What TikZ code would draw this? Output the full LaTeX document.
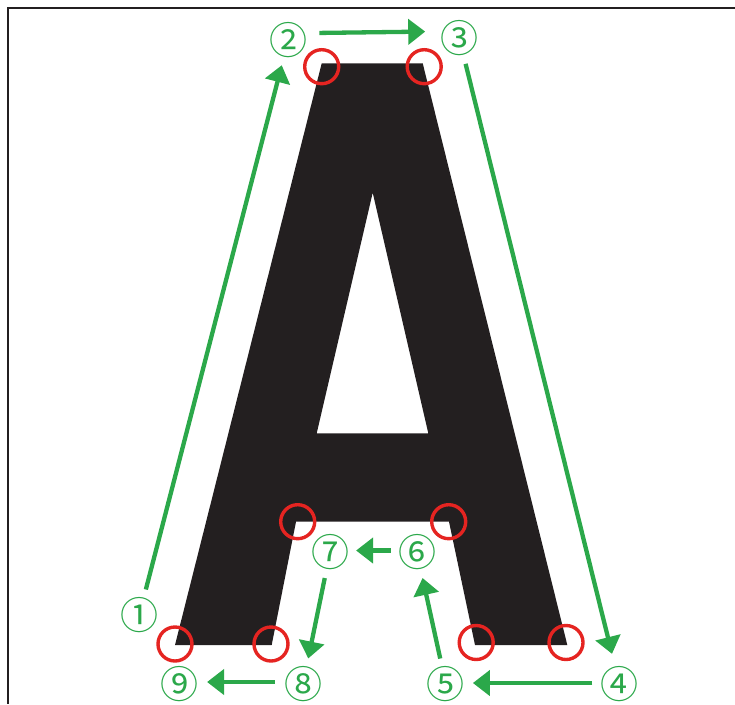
\documentclass[tikz,border=0pt]{standalone}
\usepackage{fontspec}
\usepackage{xcolor}
\usepackage{tikz}
\usetikzlibrary{arrows.meta}
\newfontfamily\cjkfont{Noto Sans CJK JP}
\definecolor{glyph}{HTML}{231F20}
\definecolor{route}{HTML}{2BA84A}
\definecolor{mark}{HTML}{E52421}

\begin{document}
\begin{tikzpicture}[x=1pt, y=-1pt,
  num/.style={circle, inner sep=0pt, minimum size=50pt, text=route,
              font=\cjkfont\fontsize{38}{38}\selectfont},
  ring/.style={circle, draw=mark, line width=3.4pt, minimum size=34pt, inner sep=0pt},
  go/.style={draw=route, line width=4.3pt, -{Triangle[length=17pt, width=25pt]}}
]
  \useasboundingbox (0,0) rectangle (735,704);
  \draw[glyph, line width=2.2pt] (735,8.3) -- (8.3,8.3) -- (8.3,704);

  % outline of the letter
  \coordinate (tl)  at (321.7,63.3);
  \coordinate (tr)  at (422.7,63.3);
  \coordinate (br)  at (567.3,645);
  \coordinate (bri) at (475,645);
  \coordinate (nr)  at (449,521.7);
  \coordinate (nl)  at (296,521.7);
  \coordinate (bli) at (271.7,645);
  \coordinate (bl)  at (175,645);
  \coordinate (apex) at (372.7,192.7);
  \coordinate (cr)  at (428.3,433.3);
  \coordinate (cl)  at (316.7,433.3);
  \fill[glyph, even odd rule] (tl) -- (tr) -- (br) -- (bri) -- (nr) -- (nl) -- (bli) -- (bl) -- cycle
        (apex) -- (cr) -- (cl) -- cycle;

  % corners
  \node[ring, yshift=-3.4pt] (r1) at (tl) {};
  \node[ring, yshift=-3.4pt, xshift=1.5pt] (r2) at (tr) {};
  \node[ring, yshift=2.5pt, xshift=-1.3pt] (r3) at (br) {};
  \node[ring, yshift=2.5pt, xshift=1.2pt] (r4) at (bri) {};
  \node[ring, xshift=-0.3pt] (r5) at (nr) {};
  \node[ring, xshift=1.7pt] (r6) at (nl) {};
  \node[ring, yshift=1pt, xshift=-0.7pt] (r7) at (bli) {};
  \node[ring, yshift=1pt] (r8) at (bl) {};

  % steps
  \node[num] (s1) at (139.3,614.7) {①};
  \node[num] (s2) at (288.3,40) {②};
  \node[num] (s3) at (459.3,38.5) {③};
  \node[num] (s4) at (619.5,684) {④};
  \node[num] (s5) at (445.8,684) {⑤};
  \node[num] (s6) at (417,552.5) {⑥};
  \node[num] (s7) at (330,552.5) {⑦};
  \node[num] (s8) at (303,684) {⑧};
  \node[num] (s9) at (179,684) {⑨};

  \draw[go] (s1) -- (s2);
  \draw[go, shorten <=5pt, shorten >=8pt] ([yshift=7pt]s2.east) -- ([yshift=7pt]s3.west);
  \draw[go, shorten >=5pt] (s3) -- (s4);
  \draw[go, shorten <=1pt, shorten >=1pt] ([yshift=1pt]s4.west) -- ([yshift=1pt]s5.east);
  \draw[go] (s5) -- (s6);
  \draw[go] ([yshift=2pt]s6.west) -- ([yshift=2pt]s7.east);
  \draw[go] (s7) -- (s8);
  \draw[go, shorten <=2pt, shorten >=2pt] ([yshift=2pt]s8.west) -- ([yshift=2pt]s9.east);
\end{tikzpicture}
\end{document}
